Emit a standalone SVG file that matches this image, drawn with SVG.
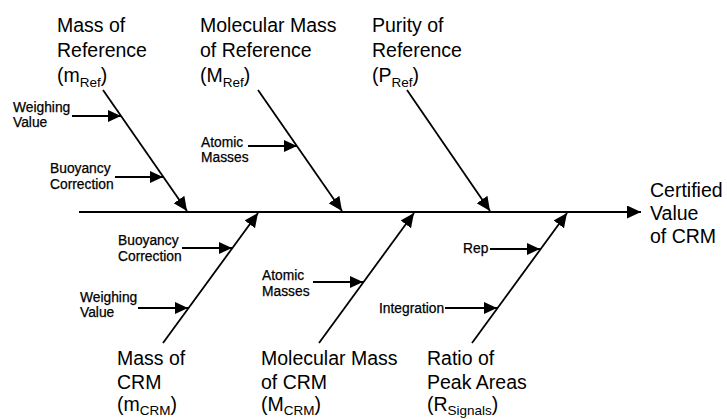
<svg xmlns="http://www.w3.org/2000/svg" width="727" height="419" viewBox="0 0 727 419">
<style>
  .big { font-family: "Liberation Sans", Arial, sans-serif; font-size: 19.5px; fill: #000; }
  .sub { font-size: 13.5px; }
  .sm { font-family: "Liberation Sans", Arial, sans-serif; font-size: 13.8px; fill: #000; stroke: #000; stroke-width: 0.25px; }
  .ln { stroke: #000; stroke-width: 1.8; fill: none; }
  .spine { stroke: #000; stroke-width: 2.2; fill: none; }
</style>
<defs>
  <marker id="ah" markerUnits="userSpaceOnUse" markerWidth="16" markerHeight="14" refX="14" refY="6.5" orient="auto">
    <path d="M0,0 L14,6.5 L0,13 z" fill="#000"/>
  </marker>
  <marker id="as" markerUnits="userSpaceOnUse" markerWidth="15" markerHeight="13" refX="13" refY="6" orient="auto">
    <path d="M0,0 L13,6 L0,12 z" fill="#000"/>
  </marker>
</defs>
<rect width="727" height="419" fill="#fff"/>
<g id="connectors">
  <line class="spine" x1="79" y1="212" x2="641" y2="212" marker-end="url(#ah)"/>
  <line class="ln" x1="103" y1="90" x2="187" y2="211" marker-end="url(#ah)"/>
  <line class="ln" x1="258" y1="90" x2="342" y2="211" marker-end="url(#ah)"/>
  <line class="ln" x1="407" y1="90" x2="490" y2="211" marker-end="url(#ah)"/>
  <line class="ln" x1="163" y1="343" x2="258" y2="213" marker-end="url(#ah)"/>
  <line class="ln" x1="319" y1="343" x2="414" y2="213" marker-end="url(#ah)"/>
  <line class="ln" x1="472" y1="343" x2="567" y2="213" marker-end="url(#ah)"/>
  <line class="ln" x1="72" y1="116" x2="121" y2="116" marker-end="url(#as)"/>
  <line class="ln" x1="115" y1="177" x2="163" y2="177" marker-end="url(#as)"/>
  <line class="ln" x1="248" y1="146" x2="297" y2="146" marker-end="url(#as)"/>
  <line class="ln" x1="182" y1="248" x2="232" y2="248" marker-end="url(#as)"/>
  <line class="ln" x1="138" y1="308" x2="188" y2="308" marker-end="url(#as)"/>
  <line class="ln" x1="313" y1="282" x2="363" y2="282" marker-end="url(#as)"/>
  <line class="ln" x1="490" y1="249" x2="540" y2="249" marker-end="url(#as)"/>
  <line class="ln" x1="445" y1="308" x2="497" y2="308" marker-end="url(#as)"/>
</g>
<g id="mass-ref">
  <text class="big" x="57" y="32">Mass of</text>
  <text class="big" x="57" y="57">Reference</text>
  <text class="big" x="57" y="82">(m<tspan class="sub" dy="5">Ref</tspan><tspan dy="-5">)</tspan></text>
</g>
<g id="molmass-ref">
  <text class="big" x="200" y="32">Molecular Mass</text>
  <text class="big" x="200" y="57">of Reference</text>
  <text class="big" x="200" y="82">(M<tspan class="sub" dy="5">Ref</tspan><tspan dy="-5">)</tspan></text>
</g>
<g id="purity-ref">
  <text class="big" x="372" y="32">Purity of</text>
  <text class="big" x="372" y="57">Reference</text>
  <text class="big" x="372" y="82">(P<tspan class="sub" dy="5">Ref</tspan><tspan dy="-5">)</tspan></text>
</g>
<g id="certified">
  <text class="big" x="650" y="197">Certified</text>
  <text class="big" x="650" y="220">Value</text>
  <text class="big" x="650" y="243">of CRM</text>
</g>
<g id="weighing-ref">
  <text class="sm" x="13" y="112">Weighing</text>
  <text class="sm" x="13" y="127">Value</text>
</g>
<g id="buoyancy-ref">
  <text class="sm" x="50" y="173">Buoyancy</text>
  <text class="sm" x="50" y="189">Correction</text>
</g>
<g id="atomic-ref">
  <text class="sm" x="201" y="147">Atomic</text>
  <text class="sm" x="201" y="162">Masses</text>
</g>
<g id="buoyancy-crm">
  <text class="sm" x="118" y="245">Buoyancy</text>
  <text class="sm" x="118" y="261">Correction</text>
</g>
<g id="weighing-crm">
  <text class="sm" x="80" y="302">Weighing</text>
  <text class="sm" x="80" y="317">Value</text>
</g>
<g id="atomic-crm">
  <text class="sm" x="262" y="280">Atomic</text>
  <text class="sm" x="262" y="296">Masses</text>
</g>
<g id="rep">
  <text class="sm" x="463" y="253">Rep</text>
</g>
<g id="integration">
  <text class="sm" x="379" y="313">Integration</text>
</g>
<g id="mass-crm">
  <text class="big" x="117" y="365">Mass of</text>
  <text class="big" x="117" y="389">CRM</text>
  <text class="big" x="117" y="411">(m<tspan class="sub" dy="4">CRM</tspan><tspan dy="-4">)</tspan></text>
</g>
<g id="molmass-crm">
  <text class="big" x="261" y="365">Molecular Mass</text>
  <text class="big" x="261" y="389">of CRM</text>
  <text class="big" x="261" y="411">(M<tspan class="sub" dy="4">CRM</tspan><tspan dy="-4">)</tspan></text>
</g>
<g id="ratio">
  <text class="big" x="427" y="365">Ratio of</text>
  <text class="big" x="427" y="389">Peak Areas</text>
  <text class="big" x="427" y="411">(R<tspan class="sub" dy="4">Signals</tspan><tspan dy="-4">)</tspan></text>
</g>
</svg>
